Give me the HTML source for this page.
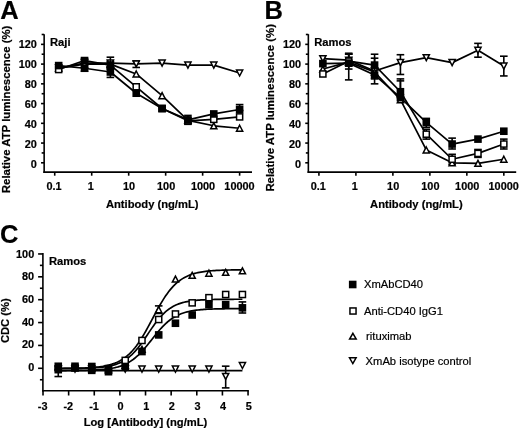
<!DOCTYPE html>
<html><head><meta charset="utf-8"><style>
html,body{margin:0;padding:0;background:#fff;width:520px;height:431px;overflow:hidden}
svg{display:block;filter:grayscale(1)}
svg text{stroke:#000;stroke-width:0.2px;fill:#000}
</style></head><body>
<svg width="520" height="431" viewBox="0 0 520 431" font-family="Liberation Sans, sans-serif" stroke="#000" fill="#000" stroke-linecap="butt">
<rect x="0" y="0" width="520" height="431" fill="#fff" stroke="none"/>
<g stroke="none"><!--text--></g>
<text x="0.30" y="19.40" font-size="25.5" text-anchor="start" font-weight="bold" >A</text>
<line x1="44.15" y1="34.19" x2="44.15" y2="172.90" stroke-width="1.6"/>
<line x1="43.35" y1="172.10" x2="252.00" y2="172.10" stroke-width="1.6"/>
<line x1="41.05" y1="162.80" x2="44.15" y2="162.80" stroke-width="1.6"/>
<text x="36.90" y="167.60" font-size="10.9" text-anchor="end" font-weight="bold" >0</text>
<line x1="41.05" y1="143.06" x2="44.15" y2="143.06" stroke-width="1.6"/>
<text x="36.90" y="147.61" font-size="10.9" text-anchor="end" font-weight="bold" >20</text>
<line x1="41.05" y1="123.32" x2="44.15" y2="123.32" stroke-width="1.6"/>
<text x="36.90" y="127.62" font-size="10.9" text-anchor="end" font-weight="bold" >40</text>
<line x1="41.05" y1="103.58" x2="44.15" y2="103.58" stroke-width="1.6"/>
<text x="36.90" y="107.63" font-size="10.9" text-anchor="end" font-weight="bold" >60</text>
<line x1="41.05" y1="83.84" x2="44.15" y2="83.84" stroke-width="1.6"/>
<text x="36.90" y="87.64" font-size="10.9" text-anchor="end" font-weight="bold" >80</text>
<line x1="41.05" y1="64.10" x2="44.15" y2="64.10" stroke-width="1.6"/>
<text x="36.90" y="67.65" font-size="10.9" text-anchor="end" font-weight="bold" >100</text>
<line x1="41.05" y1="44.36" x2="44.15" y2="44.36" stroke-width="1.6"/>
<text x="36.90" y="47.66" font-size="10.9" text-anchor="end" font-weight="bold" >120</text>
<line x1="41.65" y1="152.93" x2="44.15" y2="152.93" stroke-width="1.6"/>
<line x1="41.65" y1="133.19" x2="44.15" y2="133.19" stroke-width="1.6"/>
<line x1="41.65" y1="113.45" x2="44.15" y2="113.45" stroke-width="1.6"/>
<line x1="41.65" y1="93.71" x2="44.15" y2="93.71" stroke-width="1.6"/>
<line x1="41.65" y1="73.97" x2="44.15" y2="73.97" stroke-width="1.6"/>
<line x1="41.65" y1="54.23" x2="44.15" y2="54.23" stroke-width="1.6"/>
<line x1="41.65" y1="34.49" x2="44.15" y2="34.49" stroke-width="1.6"/>
<line x1="54.72" y1="172.10" x2="54.72" y2="175.70" stroke-width="1.6"/>
<text x="54.02" y="189.80" font-size="10.9" text-anchor="middle" font-weight="bold" >0.1</text>
<line x1="91.70" y1="172.10" x2="91.70" y2="175.70" stroke-width="1.6"/>
<text x="90.70" y="189.80" font-size="10.9" text-anchor="middle" font-weight="bold" >1</text>
<line x1="128.68" y1="172.10" x2="128.68" y2="175.70" stroke-width="1.6"/>
<text x="128.98" y="189.80" font-size="10.9" text-anchor="middle" font-weight="bold" >10</text>
<line x1="165.66" y1="172.10" x2="165.66" y2="175.70" stroke-width="1.6"/>
<text x="166.16" y="189.80" font-size="10.9" text-anchor="middle" font-weight="bold" >100</text>
<line x1="202.64" y1="172.10" x2="202.64" y2="175.70" stroke-width="1.6"/>
<text x="203.04" y="189.80" font-size="10.9" text-anchor="middle" font-weight="bold" >1000</text>
<line x1="239.62" y1="172.10" x2="239.62" y2="175.70" stroke-width="1.6"/>
<text x="239.52" y="189.80" font-size="10.9" text-anchor="middle" font-weight="bold" >10000</text>
<text x="152.20" y="207.80" font-size="11.2" text-anchor="middle" font-weight="bold" >Antibody (ng/mL)</text>
<text transform="translate(9.80,109.4) rotate(-90)" x="0" y="0" font-size="11.4" text-anchor="middle" font-weight="bold">Relative ATP luminescence (%)</text>
<text x="50.00" y="45.90" font-size="11.2" text-anchor="start" font-weight="bold" >Raji</text>
<polyline points="58.68,65.58 84.53,68.25 110.38,72.00 136.23,93.22 162.08,108.52 187.92,119.87 213.77,113.94 239.62,109.50" fill="none" stroke-width="1.7" stroke-linejoin="round"/>
<polyline points="58.68,69.53 84.53,60.55 110.38,65.09 136.23,86.80 162.08,108.52 187.92,120.85 213.77,119.37 239.62,116.90" fill="none" stroke-width="1.7" stroke-linejoin="round"/>
<polyline points="58.68,68.05 84.53,64.10 110.38,64.10 136.23,73.97 162.08,95.68 187.92,120.36 213.77,125.79 239.62,128.25" fill="none" stroke-width="1.7" stroke-linejoin="round"/>
<polyline points="58.68,68.05 84.53,63.11 110.38,63.11 136.23,63.90 162.08,63.11 187.92,65.09 213.77,65.09 239.62,72.98" fill="none" stroke-width="1.7" stroke-linejoin="round"/>
<line x1="84.53" y1="65.28" x2="84.53" y2="71.21" stroke-width="1.6"/>
<line x1="80.73" y1="65.28" x2="88.33" y2="65.28" stroke-width="1.6"/>
<line x1="80.73" y1="71.21" x2="88.33" y2="71.21" stroke-width="1.6"/>
<line x1="110.38" y1="67.06" x2="110.38" y2="77.42" stroke-width="1.6"/>
<line x1="106.58" y1="67.06" x2="114.18" y2="67.06" stroke-width="1.6"/>
<line x1="106.58" y1="77.42" x2="114.18" y2="77.42" stroke-width="1.6"/>
<line x1="187.92" y1="115.42" x2="187.92" y2="124.31" stroke-width="1.6"/>
<line x1="184.12" y1="115.42" x2="191.72" y2="115.42" stroke-width="1.6"/>
<line x1="184.12" y1="124.31" x2="191.72" y2="124.31" stroke-width="1.6"/>
<line x1="239.62" y1="104.57" x2="239.62" y2="110.49" stroke-width="1.6"/>
<line x1="235.82" y1="104.57" x2="243.42" y2="104.57" stroke-width="1.6"/>
<line x1="235.82" y1="110.49" x2="243.42" y2="110.49" stroke-width="1.6"/>
<line x1="84.53" y1="58.57" x2="84.53" y2="62.52" stroke-width="1.6"/>
<line x1="80.73" y1="58.57" x2="88.33" y2="58.57" stroke-width="1.6"/>
<line x1="80.73" y1="62.52" x2="88.33" y2="62.52" stroke-width="1.6"/>
<line x1="110.38" y1="57.19" x2="110.38" y2="69.04" stroke-width="1.6"/>
<line x1="106.58" y1="57.19" x2="114.18" y2="57.19" stroke-width="1.6"/>
<line x1="106.58" y1="69.04" x2="114.18" y2="69.04" stroke-width="1.6"/>
<line x1="110.38" y1="61.14" x2="110.38" y2="67.06" stroke-width="1.6"/>
<line x1="106.58" y1="61.14" x2="114.18" y2="61.14" stroke-width="1.6"/>
<line x1="106.58" y1="67.06" x2="114.18" y2="67.06" stroke-width="1.6"/>
<line x1="136.23" y1="60.94" x2="136.23" y2="67.46" stroke-width="1.6"/>
<line x1="132.43" y1="60.94" x2="140.03" y2="60.94" stroke-width="1.6"/>
<line x1="132.43" y1="67.46" x2="140.03" y2="67.46" stroke-width="1.6"/>
<polygon points="58.68,71.05 61.78,65.05 55.58,65.05" fill="#fff" stroke-width="1.5" stroke-linejoin="miter"/>
<polygon points="84.53,66.11 87.63,60.11 81.43,60.11" fill="#fff" stroke-width="1.5" stroke-linejoin="miter"/>
<polygon points="110.38,66.11 113.48,60.11 107.28,60.11" fill="#fff" stroke-width="1.5" stroke-linejoin="miter"/>
<polygon points="136.23,66.90 139.33,60.90 133.13,60.90" fill="#fff" stroke-width="1.5" stroke-linejoin="miter"/>
<polygon points="162.08,66.11 165.18,60.11 158.98,60.11" fill="#fff" stroke-width="1.5" stroke-linejoin="miter"/>
<polygon points="187.92,68.09 191.02,62.09 184.82,62.09" fill="#fff" stroke-width="1.5" stroke-linejoin="miter"/>
<polygon points="213.77,68.09 216.87,62.09 210.67,62.09" fill="#fff" stroke-width="1.5" stroke-linejoin="miter"/>
<polygon points="239.62,75.98 242.72,69.98 236.52,69.98" fill="#fff" stroke-width="1.5" stroke-linejoin="miter"/>
<polygon points="58.68,65.05 61.78,71.05 55.58,71.05" fill="#fff" stroke-width="1.5" stroke-linejoin="miter"/>
<polygon points="84.53,61.10 87.63,67.10 81.43,67.10" fill="#fff" stroke-width="1.5" stroke-linejoin="miter"/>
<polygon points="110.38,61.10 113.48,67.10 107.28,67.10" fill="#fff" stroke-width="1.5" stroke-linejoin="miter"/>
<polygon points="136.23,70.97 139.33,76.97 133.13,76.97" fill="#fff" stroke-width="1.5" stroke-linejoin="miter"/>
<polygon points="162.08,92.68 165.18,98.68 158.98,98.68" fill="#fff" stroke-width="1.5" stroke-linejoin="miter"/>
<polygon points="187.92,117.36 191.02,123.36 184.82,123.36" fill="#fff" stroke-width="1.5" stroke-linejoin="miter"/>
<polygon points="213.77,122.79 216.87,128.79 210.67,128.79" fill="#fff" stroke-width="1.5" stroke-linejoin="miter"/>
<polygon points="239.62,125.25 242.72,131.25 236.52,131.25" fill="#fff" stroke-width="1.5" stroke-linejoin="miter"/>
<rect x="55.63" y="66.48" width="6.1" height="6.1" fill="#fff" stroke-width="1.5"/>
<rect x="80.73" y="56.75" width="7.6" height="7.6" fill="#000" stroke="none"/>
<rect x="106.58" y="61.29" width="7.6" height="7.6" fill="#000" stroke="none"/>
<rect x="133.18" y="83.75" width="6.1" height="6.1" fill="#fff" stroke-width="1.5"/>
<rect x="159.03" y="105.47" width="6.1" height="6.1" fill="#fff" stroke-width="1.5"/>
<rect x="184.87" y="117.80" width="6.1" height="6.1" fill="#fff" stroke-width="1.5"/>
<rect x="210.72" y="116.32" width="6.1" height="6.1" fill="#fff" stroke-width="1.5"/>
<rect x="236.57" y="113.85" width="6.1" height="6.1" fill="#fff" stroke-width="1.5"/>
<rect x="54.88" y="61.78" width="7.6" height="7.6" fill="#000" stroke="none"/>
<rect x="80.73" y="64.45" width="7.6" height="7.6" fill="#000" stroke="none"/>
<rect x="106.58" y="68.20" width="7.6" height="7.6" fill="#000" stroke="none"/>
<rect x="132.43" y="89.42" width="7.6" height="7.6" fill="#000" stroke="none"/>
<rect x="158.28" y="104.72" width="7.6" height="7.6" fill="#000" stroke="none"/>
<rect x="184.12" y="116.07" width="7.6" height="7.6" fill="#000" stroke="none"/>
<rect x="209.97" y="110.14" width="7.6" height="7.6" fill="#000" stroke="none"/>
<rect x="235.82" y="105.70" width="7.6" height="7.6" fill="#000" stroke="none"/>
<text x="264.50" y="19.40" font-size="25.5" text-anchor="start" font-weight="bold" >B</text>
<line x1="308.35" y1="34.19" x2="308.35" y2="172.90" stroke-width="1.6"/>
<line x1="307.55" y1="172.10" x2="516.20" y2="172.10" stroke-width="1.6"/>
<line x1="305.25" y1="162.80" x2="308.35" y2="162.80" stroke-width="1.6"/>
<text x="301.10" y="167.60" font-size="10.9" text-anchor="end" font-weight="bold" >0</text>
<line x1="305.25" y1="143.06" x2="308.35" y2="143.06" stroke-width="1.6"/>
<text x="301.10" y="147.61" font-size="10.9" text-anchor="end" font-weight="bold" >20</text>
<line x1="305.25" y1="123.32" x2="308.35" y2="123.32" stroke-width="1.6"/>
<text x="301.10" y="127.62" font-size="10.9" text-anchor="end" font-weight="bold" >40</text>
<line x1="305.25" y1="103.58" x2="308.35" y2="103.58" stroke-width="1.6"/>
<text x="301.10" y="107.63" font-size="10.9" text-anchor="end" font-weight="bold" >60</text>
<line x1="305.25" y1="83.84" x2="308.35" y2="83.84" stroke-width="1.6"/>
<text x="301.10" y="87.64" font-size="10.9" text-anchor="end" font-weight="bold" >80</text>
<line x1="305.25" y1="64.10" x2="308.35" y2="64.10" stroke-width="1.6"/>
<text x="301.10" y="67.65" font-size="10.9" text-anchor="end" font-weight="bold" >100</text>
<line x1="305.25" y1="44.36" x2="308.35" y2="44.36" stroke-width="1.6"/>
<text x="301.10" y="47.66" font-size="10.9" text-anchor="end" font-weight="bold" >120</text>
<line x1="305.85" y1="152.93" x2="308.35" y2="152.93" stroke-width="1.6"/>
<line x1="305.85" y1="133.19" x2="308.35" y2="133.19" stroke-width="1.6"/>
<line x1="305.85" y1="113.45" x2="308.35" y2="113.45" stroke-width="1.6"/>
<line x1="305.85" y1="93.71" x2="308.35" y2="93.71" stroke-width="1.6"/>
<line x1="305.85" y1="73.97" x2="308.35" y2="73.97" stroke-width="1.6"/>
<line x1="305.85" y1="54.23" x2="308.35" y2="54.23" stroke-width="1.6"/>
<line x1="305.85" y1="34.49" x2="308.35" y2="34.49" stroke-width="1.6"/>
<line x1="318.92" y1="172.10" x2="318.92" y2="175.70" stroke-width="1.6"/>
<text x="318.22" y="189.80" font-size="10.9" text-anchor="middle" font-weight="bold" >0.1</text>
<line x1="355.90" y1="172.10" x2="355.90" y2="175.70" stroke-width="1.6"/>
<text x="354.90" y="189.80" font-size="10.9" text-anchor="middle" font-weight="bold" >1</text>
<line x1="392.88" y1="172.10" x2="392.88" y2="175.70" stroke-width="1.6"/>
<text x="393.18" y="189.80" font-size="10.9" text-anchor="middle" font-weight="bold" >10</text>
<line x1="429.86" y1="172.10" x2="429.86" y2="175.70" stroke-width="1.6"/>
<text x="430.36" y="189.80" font-size="10.9" text-anchor="middle" font-weight="bold" >100</text>
<line x1="466.84" y1="172.10" x2="466.84" y2="175.70" stroke-width="1.6"/>
<text x="467.24" y="189.80" font-size="10.9" text-anchor="middle" font-weight="bold" >1000</text>
<line x1="503.82" y1="172.10" x2="503.82" y2="175.70" stroke-width="1.6"/>
<text x="503.72" y="189.80" font-size="10.9" text-anchor="middle" font-weight="bold" >10000</text>
<text x="416.40" y="207.80" font-size="11.2" text-anchor="middle" font-weight="bold" >Antibody (ng/mL)</text>
<text transform="translate(274.30,107.85) rotate(-90)" x="0" y="0" font-size="11.4" text-anchor="middle" font-weight="bold">Relative ATP luminescence (%)</text>
<text x="314.20" y="45.90" font-size="11.2" text-anchor="start" font-weight="bold" >Ramos</text>
<polyline points="322.88,63.61 348.73,63.11 374.58,74.96 400.43,97.66 426.28,122.33 452.12,144.05 477.97,139.11 503.82,131.22" fill="none" stroke-width="1.7" stroke-linejoin="round"/>
<polyline points="322.88,73.97 348.73,61.14 374.58,65.09 400.43,91.74 426.28,134.18 452.12,159.25 477.97,153.42 503.82,144.05" fill="none" stroke-width="1.7" stroke-linejoin="round"/>
<polyline points="322.88,69.04 348.73,62.13 374.58,72.00 400.43,99.63 426.28,149.97 452.12,162.80 477.97,163.29 503.82,159.25" fill="none" stroke-width="1.7" stroke-linejoin="round"/>
<polyline points="322.88,58.67 348.73,60.15 374.58,71.01 400.43,62.62 426.28,57.68 452.12,62.62 477.97,50.28 503.82,66.07" fill="none" stroke-width="1.7" stroke-linejoin="round"/>
<line x1="348.73" y1="53.24" x2="348.73" y2="79.89" stroke-width="1.6"/>
<line x1="344.93" y1="53.24" x2="352.53" y2="53.24" stroke-width="1.6"/>
<line x1="344.93" y1="79.89" x2="352.53" y2="79.89" stroke-width="1.6"/>
<line x1="374.58" y1="54.23" x2="374.58" y2="83.84" stroke-width="1.6"/>
<line x1="370.78" y1="54.23" x2="378.38" y2="54.23" stroke-width="1.6"/>
<line x1="370.78" y1="83.84" x2="378.38" y2="83.84" stroke-width="1.6"/>
<line x1="400.43" y1="80.88" x2="400.43" y2="97.66" stroke-width="1.6"/>
<line x1="396.63" y1="80.88" x2="404.23" y2="80.88" stroke-width="1.6"/>
<line x1="396.63" y1="97.66" x2="404.23" y2="97.66" stroke-width="1.6"/>
<line x1="426.28" y1="118.39" x2="426.28" y2="127.27" stroke-width="1.6"/>
<line x1="422.48" y1="118.39" x2="430.08" y2="118.39" stroke-width="1.6"/>
<line x1="422.48" y1="127.27" x2="430.08" y2="127.27" stroke-width="1.6"/>
<line x1="452.12" y1="138.12" x2="452.12" y2="148.98" stroke-width="1.6"/>
<line x1="448.32" y1="138.12" x2="455.92" y2="138.12" stroke-width="1.6"/>
<line x1="448.32" y1="148.98" x2="455.92" y2="148.98" stroke-width="1.6"/>
<line x1="348.73" y1="54.23" x2="348.73" y2="69.04" stroke-width="1.6"/>
<line x1="344.93" y1="54.23" x2="352.53" y2="54.23" stroke-width="1.6"/>
<line x1="344.93" y1="69.04" x2="352.53" y2="69.04" stroke-width="1.6"/>
<line x1="400.43" y1="78.91" x2="400.43" y2="96.67" stroke-width="1.6"/>
<line x1="396.63" y1="78.91" x2="404.23" y2="78.91" stroke-width="1.6"/>
<line x1="396.63" y1="96.67" x2="404.23" y2="96.67" stroke-width="1.6"/>
<line x1="426.28" y1="129.24" x2="426.28" y2="139.11" stroke-width="1.6"/>
<line x1="422.48" y1="129.24" x2="430.08" y2="129.24" stroke-width="1.6"/>
<line x1="422.48" y1="139.11" x2="430.08" y2="139.11" stroke-width="1.6"/>
<line x1="452.12" y1="154.31" x2="452.12" y2="164.18" stroke-width="1.6"/>
<line x1="448.32" y1="154.31" x2="455.92" y2="154.31" stroke-width="1.6"/>
<line x1="448.32" y1="164.18" x2="455.92" y2="164.18" stroke-width="1.6"/>
<line x1="477.97" y1="149.48" x2="477.97" y2="157.37" stroke-width="1.6"/>
<line x1="474.17" y1="149.48" x2="481.77" y2="149.48" stroke-width="1.6"/>
<line x1="474.17" y1="157.37" x2="481.77" y2="157.37" stroke-width="1.6"/>
<line x1="503.82" y1="139.11" x2="503.82" y2="148.98" stroke-width="1.6"/>
<line x1="500.02" y1="139.11" x2="507.62" y2="139.11" stroke-width="1.6"/>
<line x1="500.02" y1="148.98" x2="507.62" y2="148.98" stroke-width="1.6"/>
<line x1="348.73" y1="54.23" x2="348.73" y2="66.07" stroke-width="1.6"/>
<line x1="344.93" y1="54.23" x2="352.53" y2="54.23" stroke-width="1.6"/>
<line x1="344.93" y1="66.07" x2="352.53" y2="66.07" stroke-width="1.6"/>
<line x1="374.58" y1="58.18" x2="374.58" y2="78.91" stroke-width="1.6"/>
<line x1="370.78" y1="58.18" x2="378.38" y2="58.18" stroke-width="1.6"/>
<line x1="370.78" y1="78.91" x2="378.38" y2="78.91" stroke-width="1.6"/>
<line x1="400.43" y1="54.72" x2="400.43" y2="74.46" stroke-width="1.6"/>
<line x1="396.63" y1="54.72" x2="404.23" y2="54.72" stroke-width="1.6"/>
<line x1="396.63" y1="74.46" x2="404.23" y2="74.46" stroke-width="1.6"/>
<line x1="477.97" y1="43.37" x2="477.97" y2="57.19" stroke-width="1.6"/>
<line x1="474.17" y1="43.37" x2="481.77" y2="43.37" stroke-width="1.6"/>
<line x1="474.17" y1="57.19" x2="481.77" y2="57.19" stroke-width="1.6"/>
<line x1="503.82" y1="56.20" x2="503.82" y2="75.94" stroke-width="1.6"/>
<line x1="500.02" y1="56.20" x2="507.62" y2="56.20" stroke-width="1.6"/>
<line x1="500.02" y1="75.94" x2="507.62" y2="75.94" stroke-width="1.6"/>
<polygon points="322.88,61.67 325.98,55.67 319.78,55.67" fill="#fff" stroke-width="1.5" stroke-linejoin="miter"/>
<polygon points="348.73,63.15 351.83,57.15 345.63,57.15" fill="#fff" stroke-width="1.5" stroke-linejoin="miter"/>
<polygon points="374.58,74.01 377.68,68.01 371.48,68.01" fill="#fff" stroke-width="1.5" stroke-linejoin="miter"/>
<polygon points="400.43,65.62 403.53,59.62 397.33,59.62" fill="#fff" stroke-width="1.5" stroke-linejoin="miter"/>
<polygon points="426.28,60.68 429.38,54.68 423.18,54.68" fill="#fff" stroke-width="1.5" stroke-linejoin="miter"/>
<polygon points="452.12,65.62 455.22,59.62 449.02,59.62" fill="#fff" stroke-width="1.5" stroke-linejoin="miter"/>
<polygon points="477.97,53.28 481.07,47.28 474.87,47.28" fill="#fff" stroke-width="1.5" stroke-linejoin="miter"/>
<polygon points="503.82,69.07 506.92,63.07 500.72,63.07" fill="#fff" stroke-width="1.5" stroke-linejoin="miter"/>
<polygon points="322.88,66.04 325.98,72.04 319.78,72.04" fill="#fff" stroke-width="1.5" stroke-linejoin="miter"/>
<polygon points="348.73,59.13 351.83,65.13 345.63,65.13" fill="#fff" stroke-width="1.5" stroke-linejoin="miter"/>
<polygon points="374.58,69.00 377.68,75.00 371.48,75.00" fill="#fff" stroke-width="1.5" stroke-linejoin="miter"/>
<polygon points="400.43,96.63 403.53,102.63 397.33,102.63" fill="#fff" stroke-width="1.5" stroke-linejoin="miter"/>
<polygon points="426.28,146.97 429.38,152.97 423.18,152.97" fill="#fff" stroke-width="1.5" stroke-linejoin="miter"/>
<polygon points="452.12,159.80 455.22,165.80 449.02,165.80" fill="#fff" stroke-width="1.5" stroke-linejoin="miter"/>
<polygon points="477.97,160.29 481.07,166.29 474.87,166.29" fill="#fff" stroke-width="1.5" stroke-linejoin="miter"/>
<polygon points="503.82,156.25 506.92,162.25 500.72,162.25" fill="#fff" stroke-width="1.5" stroke-linejoin="miter"/>
<rect x="319.83" y="70.92" width="6.1" height="6.1" fill="#fff" stroke-width="1.5"/>
<rect x="345.68" y="58.09" width="6.1" height="6.1" fill="#fff" stroke-width="1.5"/>
<rect x="370.78" y="61.29" width="7.6" height="7.6" fill="#000" stroke="none"/>
<rect x="396.63" y="87.94" width="7.6" height="7.6" fill="#000" stroke="none"/>
<rect x="423.23" y="131.13" width="6.1" height="6.1" fill="#fff" stroke-width="1.5"/>
<rect x="449.07" y="156.20" width="6.1" height="6.1" fill="#fff" stroke-width="1.5"/>
<rect x="474.92" y="150.37" width="6.1" height="6.1" fill="#fff" stroke-width="1.5"/>
<rect x="500.77" y="141.00" width="6.1" height="6.1" fill="#fff" stroke-width="1.5"/>
<rect x="319.08" y="59.81" width="7.6" height="7.6" fill="#000" stroke="none"/>
<rect x="344.93" y="59.31" width="7.6" height="7.6" fill="#000" stroke="none"/>
<rect x="370.78" y="71.16" width="7.6" height="7.6" fill="#000" stroke="none"/>
<rect x="396.63" y="93.86" width="7.6" height="7.6" fill="#000" stroke="none"/>
<rect x="422.48" y="118.53" width="7.6" height="7.6" fill="#000" stroke="none"/>
<rect x="448.32" y="140.25" width="7.6" height="7.6" fill="#000" stroke="none"/>
<rect x="474.17" y="135.31" width="7.6" height="7.6" fill="#000" stroke="none"/>
<rect x="500.02" y="127.42" width="7.6" height="7.6" fill="#000" stroke="none"/>
<text x="0.00" y="243.20" font-size="25.5" text-anchor="start" font-weight="bold" >C</text>
<line x1="42.90" y1="253.05" x2="42.90" y2="391.60" stroke-width="1.6"/>
<line x1="42.10" y1="390.80" x2="248.85" y2="390.80" stroke-width="1.6"/>
<line x1="38.10" y1="368.30" x2="42.90" y2="368.30" stroke-width="1.6"/>
<text x="34.20" y="371.10" font-size="10.9" text-anchor="end" font-weight="bold" >0</text>
<line x1="38.10" y1="345.43" x2="42.90" y2="345.43" stroke-width="1.6"/>
<text x="34.20" y="348.43" font-size="10.9" text-anchor="end" font-weight="bold" >20</text>
<line x1="38.10" y1="322.56" x2="42.90" y2="322.56" stroke-width="1.6"/>
<text x="34.20" y="325.76" font-size="10.9" text-anchor="end" font-weight="bold" >40</text>
<line x1="38.10" y1="299.69" x2="42.90" y2="299.69" stroke-width="1.6"/>
<text x="34.20" y="303.09" font-size="10.9" text-anchor="end" font-weight="bold" >60</text>
<line x1="38.10" y1="276.82" x2="42.90" y2="276.82" stroke-width="1.6"/>
<text x="34.20" y="280.42" font-size="10.9" text-anchor="end" font-weight="bold" >80</text>
<line x1="38.10" y1="253.95" x2="42.90" y2="253.95" stroke-width="1.6"/>
<text x="34.20" y="257.75" font-size="10.9" text-anchor="end" font-weight="bold" >100</text>
<line x1="39.90" y1="379.74" x2="42.90" y2="379.74" stroke-width="1.6"/>
<line x1="39.90" y1="356.87" x2="42.90" y2="356.87" stroke-width="1.6"/>
<line x1="39.90" y1="334.00" x2="42.90" y2="334.00" stroke-width="1.6"/>
<line x1="39.90" y1="311.12" x2="42.90" y2="311.12" stroke-width="1.6"/>
<line x1="39.90" y1="288.25" x2="42.90" y2="288.25" stroke-width="1.6"/>
<line x1="39.90" y1="265.38" x2="42.90" y2="265.38" stroke-width="1.6"/>
<line x1="43.01" y1="390.80" x2="43.01" y2="395.50" stroke-width="1.6"/>
<text x="42.71" y="410.20" font-size="10.9" text-anchor="middle" font-weight="bold" >-3</text>
<line x1="68.64" y1="390.80" x2="68.64" y2="395.50" stroke-width="1.6"/>
<text x="68.34" y="410.20" font-size="10.9" text-anchor="middle" font-weight="bold" >-2</text>
<line x1="94.27" y1="390.80" x2="94.27" y2="395.50" stroke-width="1.6"/>
<text x="93.97" y="410.20" font-size="10.9" text-anchor="middle" font-weight="bold" >-1</text>
<line x1="119.90" y1="390.80" x2="119.90" y2="395.50" stroke-width="1.6"/>
<text x="120.60" y="410.20" font-size="10.9" text-anchor="middle" font-weight="bold" >0</text>
<line x1="145.53" y1="390.80" x2="145.53" y2="395.50" stroke-width="1.6"/>
<text x="146.23" y="410.20" font-size="10.9" text-anchor="middle" font-weight="bold" >1</text>
<line x1="171.16" y1="390.80" x2="171.16" y2="395.50" stroke-width="1.6"/>
<text x="171.86" y="410.20" font-size="10.9" text-anchor="middle" font-weight="bold" >2</text>
<line x1="196.79" y1="390.80" x2="196.79" y2="395.50" stroke-width="1.6"/>
<text x="197.49" y="410.20" font-size="10.9" text-anchor="middle" font-weight="bold" >3</text>
<line x1="222.42" y1="390.80" x2="222.42" y2="395.50" stroke-width="1.6"/>
<text x="223.12" y="410.20" font-size="10.9" text-anchor="middle" font-weight="bold" >4</text>
<line x1="248.05" y1="390.80" x2="248.05" y2="395.50" stroke-width="1.6"/>
<text x="248.75" y="410.20" font-size="10.9" text-anchor="middle" font-weight="bold" >5</text>
<text x="145.50" y="425.80" font-size="11.2" text-anchor="middle" font-weight="bold" >Log [Antibody] (ng/mL)</text>
<text transform="translate(9.30,320.7) rotate(-90)" x="0" y="0" font-size="11.2" text-anchor="middle" font-weight="bold">CDC (%)</text>
<text x="48.90" y="264.90" font-size="11.2" text-anchor="start" font-weight="bold" >Ramos</text>
<polyline points="58.26,370.56 59.79,370.55 61.33,370.55 62.86,370.54 64.40,370.54 65.93,370.53 67.47,370.52 69.00,370.51 70.54,370.51 72.07,370.49 73.61,370.48 75.14,370.47 76.68,370.45 78.21,370.43 79.74,370.41 81.28,370.39 82.81,370.36 84.35,370.34 85.88,370.30 87.42,370.26 88.95,370.22 90.49,370.17 92.02,370.12 93.56,370.06 95.09,369.99 96.63,369.91 98.16,369.82 99.70,369.72 101.23,369.60 102.76,369.47 104.30,369.33 105.83,369.16 107.37,368.98 108.90,368.77 110.44,368.53 111.97,368.27 113.51,367.97 115.04,367.64 116.58,367.26 118.11,366.85 119.65,366.38 121.18,365.86 122.71,365.29 124.25,364.65 125.78,363.94 127.32,363.16 128.85,362.30 130.39,361.36 131.92,360.33 133.46,359.21 134.99,358.00 136.53,356.70 138.06,355.30 139.60,353.81 141.13,352.23 142.66,350.57 144.20,348.84 145.73,347.04 147.27,345.18 148.80,343.29 150.34,341.36 151.87,339.42 153.41,337.48 154.94,335.56 156.48,333.67 158.01,331.82 159.55,330.03 161.08,328.31 162.62,326.67 164.15,325.11 165.68,323.63 167.22,322.25 168.75,320.97 170.29,319.77 171.82,318.67 173.36,317.66 174.89,316.73 176.43,315.89 177.96,315.12 179.50,314.43 181.03,313.80 182.57,313.23 184.10,312.72 185.63,312.27 187.17,311.86 188.70,311.50 190.24,311.17 191.77,310.88 193.31,310.62 194.84,310.39 196.38,310.19 197.91,310.00 199.45,309.84 200.98,309.70 202.52,309.57 204.05,309.46 205.59,309.36 207.12,309.27 208.65,309.20 210.19,309.13 211.72,309.07 213.26,309.01 214.79,308.97 216.33,308.92 217.86,308.89 219.40,308.86 220.93,308.83 222.47,308.80 224.00,308.78 225.54,308.76 227.07,308.74 228.60,308.73 230.14,308.71 231.67,308.70 233.21,308.69 234.74,308.68 236.28,308.67 237.81,308.66 239.35,308.66 240.88,308.65 242.42,308.65" fill="none" stroke-width="1.7" stroke-linejoin="round"/>
<polyline points="58.26,368.50 59.79,368.49 61.33,368.49 62.86,368.48 64.40,368.47 65.93,368.47 67.47,368.46 69.00,368.45 70.54,368.44 72.07,368.42 73.61,368.41 75.14,368.39 76.68,368.37 78.21,368.35 79.74,368.33 81.28,368.30 82.81,368.27 84.35,368.23 85.88,368.19 87.42,368.14 88.95,368.09 90.49,368.03 92.02,367.96 93.56,367.88 95.09,367.79 96.63,367.68 98.16,367.57 99.70,367.43 101.23,367.28 102.76,367.11 104.30,366.92 105.83,366.70 107.37,366.45 108.90,366.17 110.44,365.85 111.97,365.49 113.51,365.08 115.04,364.63 116.58,364.11 118.11,363.54 119.65,362.89 121.18,362.18 122.71,361.38 124.25,360.49 125.78,359.51 127.32,358.42 128.85,357.24 130.39,355.94 131.92,354.53 133.46,353.00 134.99,351.36 136.53,349.61 138.06,347.75 139.60,345.79 141.13,343.74 142.66,341.61 144.20,339.42 145.73,337.18 147.27,334.91 148.80,332.64 150.34,330.37 151.87,328.14 153.41,325.95 154.94,323.83 156.48,321.79 158.01,319.83 159.55,317.98 161.08,316.24 162.62,314.61 164.15,313.10 165.68,311.70 167.22,310.41 168.75,309.23 170.29,308.16 171.82,307.19 173.36,306.31 174.89,305.52 176.43,304.80 177.96,304.17 179.50,303.60 181.03,303.09 182.57,302.64 184.10,302.24 185.63,301.88 187.17,301.57 188.70,301.29 190.24,301.04 191.77,300.82 193.31,300.63 194.84,300.46 196.38,300.31 197.91,300.18 199.45,300.07 200.98,299.97 202.52,299.88 204.05,299.80 205.59,299.73 207.12,299.67 208.65,299.61 210.19,299.57 211.72,299.53 213.26,299.49 214.79,299.46 216.33,299.43 217.86,299.41 219.40,299.39 220.93,299.37 222.47,299.35 224.00,299.34 225.54,299.32 227.07,299.31 228.60,299.30 230.14,299.29 231.67,299.29 233.21,299.28 234.74,299.27 236.28,299.27 237.81,299.26 239.35,299.26 240.88,299.26 242.42,299.25" fill="none" stroke-width="1.7" stroke-linejoin="round"/>
<polyline points="58.26,368.45 59.79,368.44 61.33,368.43 62.86,368.42 64.40,368.41 65.93,368.39 67.47,368.38 69.00,368.36 70.54,368.34 72.07,368.31 73.61,368.29 75.14,368.26 76.68,368.22 78.21,368.18 79.74,368.14 81.28,368.09 82.81,368.04 84.35,367.98 85.88,367.91 87.42,367.84 88.95,367.75 90.49,367.65 92.02,367.55 93.56,367.43 95.09,367.29 96.63,367.14 98.16,366.97 99.70,366.78 101.23,366.56 102.76,366.33 104.30,366.06 105.83,365.76 107.37,365.43 108.90,365.05 110.44,364.64 111.97,364.18 113.51,363.66 115.04,363.09 116.58,362.46 118.11,361.75 119.65,360.97 121.18,360.11 122.71,359.17 124.25,358.13 125.78,356.98 127.32,355.73 128.85,354.37 130.39,352.89 131.92,351.29 133.46,349.55 134.99,347.69 136.53,345.70 138.06,343.58 139.60,341.33 141.13,338.96 142.66,336.48 144.20,333.89 145.73,331.21 147.27,328.45 148.80,325.63 150.34,322.77 151.87,319.88 153.41,316.99 154.94,314.11 156.48,311.26 158.01,308.47 159.55,305.75 161.08,303.11 162.62,300.57 164.15,298.14 165.68,295.83 167.22,293.64 168.75,291.58 170.29,289.65 171.82,287.86 173.36,286.19 174.89,284.64 176.43,283.22 177.96,281.91 179.50,280.71 181.03,279.62 182.57,278.62 184.10,277.72 185.63,276.90 187.17,276.16 188.70,275.49 190.24,274.89 191.77,274.34 193.31,273.85 194.84,273.41 196.38,273.02 197.91,272.67 199.45,272.35 200.98,272.07 202.52,271.82 204.05,271.59 205.59,271.39 207.12,271.21 208.65,271.05 210.19,270.90 211.72,270.77 213.26,270.66 214.79,270.56 216.33,270.47 217.86,270.39 219.40,270.31 220.93,270.25 222.47,270.19 224.00,270.14 225.54,270.10 227.07,270.06 228.60,270.02 230.14,269.99 231.67,269.96 233.21,269.93 234.74,269.91 236.28,269.89 237.81,269.87 239.35,269.86 240.88,269.84 242.42,269.83" fill="none" stroke-width="1.7" stroke-linejoin="round"/>
<line x1="58.26" y1="370.59" x2="242.42" y2="370.59" stroke-width="1.7"/>
<line x1="58.26" y1="369.66" x2="58.26" y2="376.53" stroke-width="1.6"/>
<line x1="54.46" y1="369.66" x2="62.06" y2="369.66" stroke-width="1.6"/>
<line x1="54.46" y1="376.53" x2="62.06" y2="376.53" stroke-width="1.6"/>
<line x1="91.74" y1="363.48" x2="91.74" y2="370.34" stroke-width="1.6"/>
<line x1="87.94" y1="363.48" x2="95.54" y2="363.48" stroke-width="1.6"/>
<line x1="87.94" y1="370.34" x2="95.54" y2="370.34" stroke-width="1.6"/>
<line x1="242.42" y1="301.91" x2="242.42" y2="313.00" stroke-width="1.6"/>
<line x1="238.62" y1="301.91" x2="246.22" y2="301.91" stroke-width="1.6"/>
<line x1="238.62" y1="313.00" x2="246.22" y2="313.00" stroke-width="1.6"/>
<line x1="158.71" y1="305.89" x2="158.71" y2="313.44" stroke-width="1.6"/>
<line x1="154.91" y1="305.89" x2="162.51" y2="305.89" stroke-width="1.6"/>
<line x1="154.91" y1="313.44" x2="162.51" y2="313.44" stroke-width="1.6"/>
<line x1="225.68" y1="366.17" x2="225.68" y2="387.89" stroke-width="1.6"/>
<line x1="221.88" y1="366.17" x2="229.48" y2="366.17" stroke-width="1.6"/>
<line x1="221.88" y1="387.89" x2="229.48" y2="387.89" stroke-width="1.6"/>
<polygon points="58.26,372.10 61.36,366.10 55.16,366.10" fill="#fff" stroke-width="1.5" stroke-linejoin="miter"/>
<polygon points="75.00,372.10 78.10,366.10 71.90,366.10" fill="#fff" stroke-width="1.5" stroke-linejoin="miter"/>
<polygon points="91.74,372.10 94.84,366.10 88.64,366.10" fill="#fff" stroke-width="1.5" stroke-linejoin="miter"/>
<polygon points="108.48,372.10 111.58,366.10 105.38,366.10" fill="#fff" stroke-width="1.5" stroke-linejoin="miter"/>
<polygon points="125.23,372.10 128.33,366.10 122.13,366.10" fill="#fff" stroke-width="1.5" stroke-linejoin="miter"/>
<polygon points="141.97,372.10 145.07,366.10 138.87,366.10" fill="#fff" stroke-width="1.5" stroke-linejoin="miter"/>
<polygon points="158.71,372.10 161.81,366.10 155.61,366.10" fill="#fff" stroke-width="1.5" stroke-linejoin="miter"/>
<polygon points="175.45,372.10 178.55,366.10 172.35,366.10" fill="#fff" stroke-width="1.5" stroke-linejoin="miter"/>
<polygon points="192.19,372.10 195.29,366.10 189.09,366.10" fill="#fff" stroke-width="1.5" stroke-linejoin="miter"/>
<polygon points="208.93,372.10 212.03,366.10 205.83,366.10" fill="#fff" stroke-width="1.5" stroke-linejoin="miter"/>
<polygon points="225.68,379.46 228.78,373.46 222.58,373.46" fill="#fff" stroke-width="1.5" stroke-linejoin="miter"/>
<polygon points="242.42,368.48 245.52,362.48 239.32,362.48" fill="#fff" stroke-width="1.5" stroke-linejoin="miter"/>
<polygon points="58.26,364.40 61.36,370.40 55.16,370.40" fill="#fff" stroke-width="1.5" stroke-linejoin="miter"/>
<polygon points="75.00,364.40 78.10,370.40 71.90,370.40" fill="#fff" stroke-width="1.5" stroke-linejoin="miter"/>
<polygon points="91.74,365.53 94.84,371.53 88.64,371.53" fill="#fff" stroke-width="1.5" stroke-linejoin="miter"/>
<polygon points="108.48,366.66 111.58,372.66 105.38,372.66" fill="#fff" stroke-width="1.5" stroke-linejoin="miter"/>
<polygon points="125.23,362.14 128.33,368.14 122.13,368.14" fill="#fff" stroke-width="1.5" stroke-linejoin="miter"/>
<polygon points="141.97,346.29 145.07,352.29 138.87,352.29" fill="#fff" stroke-width="1.5" stroke-linejoin="miter"/>
<polygon points="158.71,306.66 161.81,312.66 155.61,312.66" fill="#fff" stroke-width="1.5" stroke-linejoin="miter"/>
<polygon points="175.45,276.10 178.55,282.10 172.35,282.10" fill="#fff" stroke-width="1.5" stroke-linejoin="miter"/>
<polygon points="192.19,272.36 195.29,278.36 189.09,278.36" fill="#fff" stroke-width="1.5" stroke-linejoin="miter"/>
<polygon points="208.93,270.21 212.03,276.21 205.83,276.21" fill="#fff" stroke-width="1.5" stroke-linejoin="miter"/>
<polygon points="225.68,269.31 228.78,275.31 222.58,275.31" fill="#fff" stroke-width="1.5" stroke-linejoin="miter"/>
<polygon points="242.42,267.83 245.52,273.83 239.32,273.83" fill="#fff" stroke-width="1.5" stroke-linejoin="miter"/>
<rect x="54.46" y="362.47" width="7.6" height="7.6" fill="#000" stroke="none"/>
<rect x="71.20" y="362.47" width="7.6" height="7.6" fill="#000" stroke="none"/>
<rect x="87.94" y="363.60" width="7.6" height="7.6" fill="#000" stroke="none"/>
<rect x="104.68" y="364.73" width="7.6" height="7.6" fill="#000" stroke="none"/>
<rect x="122.18" y="357.33" width="6.1" height="6.1" fill="#fff" stroke-width="1.5"/>
<rect x="138.92" y="337.41" width="6.1" height="6.1" fill="#fff" stroke-width="1.5"/>
<rect x="155.66" y="316.46" width="6.1" height="6.1" fill="#fff" stroke-width="1.5"/>
<rect x="172.40" y="310.92" width="6.1" height="6.1" fill="#fff" stroke-width="1.5"/>
<rect x="189.14" y="299.82" width="6.1" height="6.1" fill="#fff" stroke-width="1.5"/>
<rect x="205.88" y="294.61" width="6.1" height="6.1" fill="#fff" stroke-width="1.5"/>
<rect x="222.63" y="291.45" width="6.1" height="6.1" fill="#fff" stroke-width="1.5"/>
<rect x="239.37" y="291.45" width="6.1" height="6.1" fill="#fff" stroke-width="1.5"/>
<rect x="54.46" y="365.86" width="7.6" height="7.6" fill="#000" stroke="none"/>
<rect x="71.20" y="364.17" width="7.6" height="7.6" fill="#000" stroke="none"/>
<rect x="87.94" y="366.54" width="7.6" height="7.6" fill="#000" stroke="none"/>
<rect x="104.68" y="367.90" width="7.6" height="7.6" fill="#000" stroke="none"/>
<rect x="121.43" y="363.15" width="7.6" height="7.6" fill="#000" stroke="none"/>
<rect x="138.17" y="347.75" width="7.6" height="7.6" fill="#000" stroke="none"/>
<rect x="154.91" y="331.11" width="7.6" height="7.6" fill="#000" stroke="none"/>
<rect x="171.65" y="319.45" width="7.6" height="7.6" fill="#000" stroke="none"/>
<rect x="188.39" y="311.19" width="7.6" height="7.6" fill="#000" stroke="none"/>
<rect x="205.13" y="300.88" width="7.6" height="7.6" fill="#000" stroke="none"/>
<rect x="221.88" y="300.88" width="7.6" height="7.6" fill="#000" stroke="none"/>
<rect x="238.62" y="304.05" width="7.6" height="7.6" fill="#000" stroke="none"/>
<rect x="348.90" y="280.70" width="7.6" height="7.6" fill="#000" stroke="none"/>
<rect x="349.95" y="307.95" width="6.1" height="6.1" fill="#fff" stroke-width="1.5"/>
<polygon points="352.90,333.30 356.20,339.10 349.60,339.10" fill="#fff" stroke-width="1.5" stroke-linejoin="miter"/>
<polygon points="352.80,363.60 356.10,357.80 349.50,357.80" fill="#fff" stroke-width="1.5" stroke-linejoin="miter"/>
<text x="364.00" y="288.30" font-size="11.2" text-anchor="start" font-weight="normal" >XmAbCD40</text>
<text x="364.00" y="314.80" font-size="11.2" text-anchor="start" font-weight="normal" >Anti-CD40 IgG1</text>
<text x="366.10" y="340.20" font-size="11.2" text-anchor="start" font-weight="normal" >rituximab</text>
<text x="365.60" y="365.00" font-size="11.2" text-anchor="start" font-weight="normal" >XmAb isotype control</text>
</svg>
</body></html>
